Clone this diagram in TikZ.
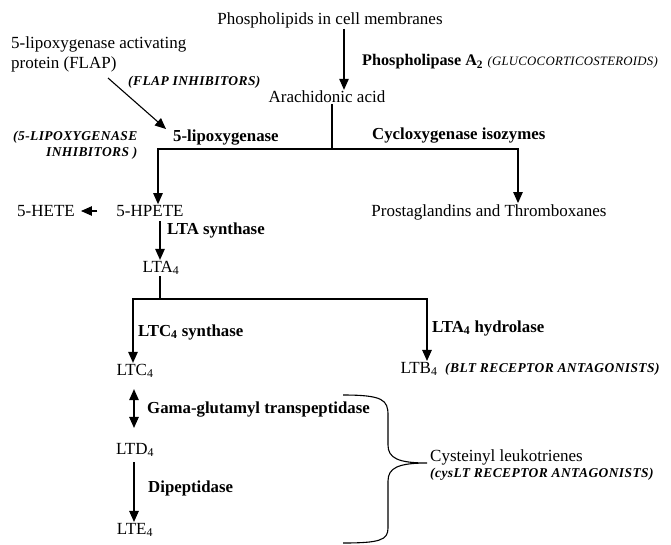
\documentclass[tikz,border=0pt]{standalone}
\usepackage{fontspec}
\setmainfont{Liberation Serif}
\usetikzlibrary{arrows.meta}
\newcommand{\lsub}[1]{\textsubscript{#1}}
\begin{document}
\begin{tikzpicture}[x=1pt,y=-1pt,
  txt/.style={font=\fontsize{17}{20}\selectfont, inner sep=1pt},
  bld/.style={font=\fontsize{16.8}{19}\selectfont\bfseries, inner sep=1pt, anchor=west},
  ital/.style={font=\fontsize{13.5}{16}\selectfont\bfseries\itshape\addfontfeatures{LetterSpace=3}, inner sep=1pt, anchor=west},
  arr/.style={line width=1.1pt, -{Triangle[length=11pt,width=9.5pt]}},
  arrtwo/.style={line width=1.1pt, {Triangle[length=11pt,width=9.5pt]}-{Triangle[length=11pt,width=9.5pt]}},
  ln/.style={line width=1.1pt}]
\useasboundingbox (0,0) rectangle (671,544);
% nodes
\node[txt] (phos) at (330,20) {Phospholipids in cell membranes};
\node[txt] (arach) at (327,97) {Arachidonic acid};
\node[txt,anchor=west,align=left] (flap) at (10,54) {5-lipoxygenase activating\\protein (FLAP)};
\node[ital] (flapi) at (127,82) {(FLAP INHIBITORS)};
\node[bld,font=\fontsize{16.2}{19}\selectfont\bfseries] (pla) at (361,62) {Phospholipase A\lsub{2}};
\node[ital,inner sep=0pt,font=\fontsize{12.8}{16}\selectfont\itshape\addfontfeatures{LetterSpace=2}] (gluc) at ([xshift=3pt]pla.east) {(GLUCOCORTICOSTEROIDS)};
\node[ital,align=right] (lipoi) at (12,145) {(5-LIPOXYGENASE\\INHIBITORS )};
\node[bld] (lipo) at (172,138) {5-lipoxygenase};
\node[bld] (cox) at (371,136) {Cycloxygenase isozymes};
\node[txt] (hpete) at (150,211) {5-HPETE};
\node[txt] (hete) at (46,211) {5-HETE};
\node[txt] (pg) at (489,212) {Prostaglandins and Thromboxanes};
\node[bld] (ltas) at (166,230) {LTA synthase};
\node[txt] (lta) at (161,268) {LTA\lsub{4}};
\node[bld] (ltcs) at (137,332) {LTC\lsub{4} synthase};
\node[bld] (ltah) at (431,328) {LTA\lsub{4} hydrolase};
\node[txt] (ltc) at (135,371) {LTC\lsub{4}};
\node[txt] (ltb) at (419,369) {LTB\lsub{4}};
\node[ital] (blt) at (444,369) {(BLT RECEPTOR ANTAGONISTS)};
\node[bld] (gama) at (146,410) {Gama-glutamyl transpeptidase};
\node[txt] (ltd) at (135,450) {LTD\lsub{4}};
\node[bld] (dip) at (147,488) {Dipeptidase};
\node[txt] (lte) at (135,530) {LTE\lsub{4}};
\node[txt,anchor=west] (cys) at (429,457) {Cysteinyl leukotrienes};
\node[ital] (cysi) at (429,474) {(cysLT RECEPTOR ANTAGONISTS)};
% coordinates
\coordinate (xa) at (344,0);
\coordinate (b1) at (332,149);
\coordinate (bl) at (158,149);
\coordinate (br) at (518,149);
\coordinate (xb) at (160,0);
\coordinate (b2) at (160,299);
\coordinate (cl) at (133,299);
\coordinate (cr) at (427,299);
\coordinate (xc) at (134,0);
\coordinate (fs) at (108,78);
\coordinate (fe) at (166,129);
% connectors
\draw[arr] (phos.south -| xa) -- (arach.north -| xa);
\draw[ln] (arach.south -| b1) -- (b1);
\draw[arr] (b1) -- (bl) -- (hpete.north -| bl);
\draw[arr] (b1) -- (br) -- (pg.north -| br);
\draw[arr] (fs) -- (fe);
\draw[arr, shorten <=18pt, shorten >=5pt] (hpete.west) -- (hete.east);
\draw[arr, shorten <=3pt] (hpete.south -| xb) -- (lta.north -| xb);
\draw[ln] (lta.south -| b2) -- (b2);
\draw[arr] (b2) -- (cl) -- (ltc.north -| cl);
\draw[arr] (b2) -- (cr) -- (ltb.north -| cr);
\draw[arrtwo, shorten <=10pt, shorten >=14pt] (ltc.south -| xc) -- (ltd.north -| xc);
\draw[arr, shorten <=4pt] (ltd.south -| xc) -- (lte.north -| xc);
% brace
\draw[ln] (343,395) .. controls (383,395) and (388,400) .. (388,415) -- (388,445)
  .. controls (388,458) and (398,463) .. (427,463)
  .. controls (398,463) and (388,468) .. (388,481) -- (388,528)
  .. controls (388,540) and (380,543) .. (343,543);
\end{tikzpicture}
\end{document}
